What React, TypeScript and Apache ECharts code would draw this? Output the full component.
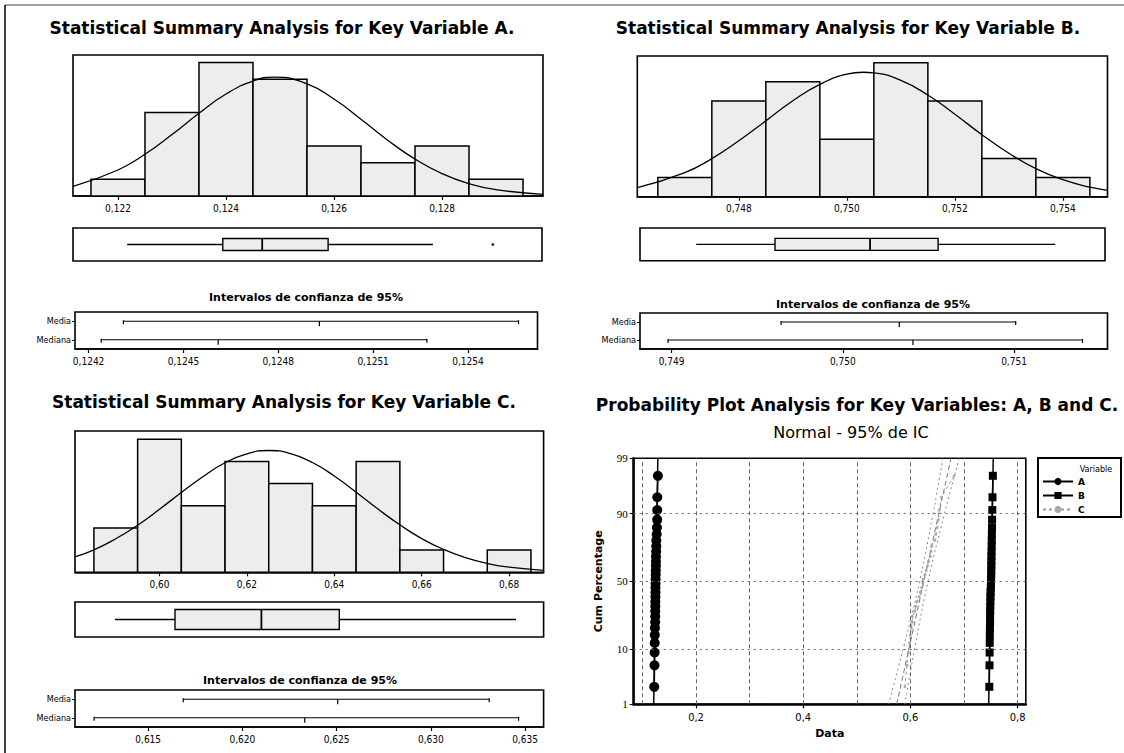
import React, { useEffect, useRef } from 'react';
import * as echarts from 'echarts';

// ---------------- Variable A ----------------
const binCentersA = [0.122, 0.123, 0.124, 0.125, 0.126, 0.127, 0.128, 0.129];
const binCountsA = [1, 5, 8, 7, 3, 2, 3, 1];
const binWidthA = 0.001;
const normalCurveA = [
  [0.12117, 0.58], [0.122, 1.56], [0.1225, 2.5], [0.123, 3.68], [0.1235, 4.96], [0.124, 6.11],
  [0.1245, 6.89], [0.1249, 7.12], [0.1255, 6.72], [0.126, 5.81], [0.1265, 4.6], [0.127, 3.33],
  [0.1275, 2.21], [0.128, 1.34], [0.1285, 0.74], [0.129, 0.38], [0.12987, 0.1],
];
const histTicksA = [0.122, 0.124, 0.126, 0.128];
const boxStatsA = [0.12217, 0.12394, 0.12467, 0.12589, 0.12783]; // min, Q1, median, Q3, max whisker
const outliersA = [0.12894];
const meanCIA = [0.12431, 0.12493, 0.12556]; // low, estimate, high
const medianCIA = [0.12424, 0.12461, 0.12527];
const ciTicksA = [0.1242, 0.1245, 0.1248, 0.1251, 0.1254];

// ---------------- Variable B ----------------
const binCentersB = [0.747, 0.748, 0.749, 0.75, 0.751, 0.752, 0.753, 0.754];
const binCountsB = [1, 5, 6, 3, 7, 5, 2, 1];
const binWidthB = 0.001;
const normalCurveB = [
  [0.74612, 0.47], [0.747, 1.26], [0.7475, 1.99], [0.748, 2.92], [0.7485, 3.96], [0.749, 5.01],
  [0.7495, 5.87], [0.75, 6.4], [0.7503, 6.5], [0.7505, 6.47], [0.751, 6.08], [0.7515, 5.31],
  [0.752, 4.31], [0.7525, 3.24], [0.753, 2.27], [0.7535, 1.47], [0.754, 0.89], [0.7545, 0.5], [0.75483, 0.33],
];
const histTicksB = [0.748, 0.75, 0.752, 0.754];
const boxStatsB = [0.74721, 0.74867, 0.75043, 0.75169, 0.75386];
const meanCIB = [0.74964, 0.75033, 0.75101];
const medianCIB = [0.74898, 0.75041, 0.7514];
const ciTicksB = [0.749, 0.75, 0.751];

// ---------------- Variable C ----------------
const binCentersC = [0.59, 0.6, 0.61, 0.62, 0.63, 0.64, 0.65, 0.66, 0.67, 0.68];
const binCountsC = [2, 6, 3, 5, 4, 3, 5, 1, 0, 1];
const binWidthC = 0.01;
const normalCurveC = [
  [0.58067, 0.69], [0.585, 1.01], [0.59, 1.51], [0.595, 2.12], [0.6, 2.84], [0.605, 3.6], [0.61, 4.32],
  [0.615, 4.94], [0.62, 5.34], [0.625, 5.49], [0.63, 5.35], [0.635, 4.95], [0.64, 4.34], [0.645, 3.61],
  [0.65, 2.85], [0.655, 2.14], [0.66, 1.52], [0.665, 1.03], [0.67, 0.66], [0.675, 0.4], [0.68, 0.23], [0.68789, 0.09],
];
const histTicksC = [0.6, 0.62, 0.64, 0.66, 0.68];
const boxStatsC = [0.58982, 0.60355, 0.62332, 0.64114, 0.68158];
const meanCIC = [0.61686, 0.62506, 0.6331];
const medianCIC = [0.61213, 0.62331, 0.63466];
const ciTicksC = [0.615, 0.62, 0.625, 0.63, 0.635];

// ---------------- Probability plot ----------------
const rankPct = [2.3, 5.6, 8.9, 12.2, 15.5, 18.8, 22.0, 25.3, 28.6, 31.9, 35.2, 38.5, 41.8, 45.1, 48.4,
  51.6, 54.9, 58.2, 61.5, 64.8, 68.1, 71.4, 74.7, 78.0, 81.3, 84.5, 87.8, 91.1, 94.4, 97.7];
const dataA = [0.12217, 0.1226, 0.1228, 0.123, 0.1232, 0.1234, 0.1239, 0.12396, 0.12402, 0.1241, 0.1242, 0.1243,
  0.12438, 0.12446, 0.12462, 0.12472, 0.1249, 0.125, 0.1252, 0.1253, 0.1254, 0.1257, 0.12588, 0.126, 0.1267,
  0.1271, 0.1276, 0.1277, 0.12783, 0.12894];
const dataB = [0.74721, 0.7476, 0.7478, 0.748, 0.7482, 0.7484, 0.74862, 0.74869, 0.7488, 0.749, 0.7492, 0.7494,
  0.7496, 0.75, 0.75034, 0.75052, 0.7507, 0.7509, 0.751, 0.7511, 0.7512, 0.7514, 0.75165, 0.7518, 0.752,
  0.7522, 0.7524, 0.7528, 0.7532, 0.75386];
const dataC = [0.58982, 0.5935, 0.596, 0.5985, 0.6, 0.6015, 0.6034, 0.6036, 0.608, 0.61, 0.6125, 0.6165, 0.6185,
  0.621, 0.6232, 0.62344, 0.627, 0.6295, 0.632, 0.634, 0.637, 0.6385, 0.6397, 0.6455, 0.6475, 0.65, 0.652,
  0.654, 0.658, 0.68158];
const fitA = [[0.12102, 1], [0.12884, 99]];
const fitB = [[0.74605, 1], [0.75461, 99]];
const fitC = [[0.57436, 1], [0.67576, 99]];
const bandPct = [1, 5, 10, 50, 90, 95, 99];
const bandLowC = [0.5592, 0.5771, 0.5865, 0.6173, 0.6424, 0.6488, 0.6606];
const bandHighC = [0.5896, 0.6013, 0.6077, 0.6329, 0.6636, 0.673, 0.691];
const probTicks = [1, 10, 50, 90, 99];
const probXTicks = [0.2, 0.4, 0.6, 0.8];
const probGridX = [0.1, 0.2, 0.3, 0.4, 0.5, 0.6, 0.7, 0.8];

// ---------- probability (normal) scale ----------
function normInv(p: number): number {
  const a = [-39.69683028665376, 220.9460984245205, -275.9285104469687, 138.357751867269, -30.66479806614716, 2.506628277459239];
  const b = [-54.47609879822406, 161.5858368580409, -155.6989798598866, 66.80131188771972, -13.28068155288572];
  const c = [-0.007784894002430293, -0.3223964580411365, -2.400758277161838, -2.549732539343734, 4.374664141464968, 2.938163982698783];
  const d = [0.007784695709041462, 0.3224671290700398, 2.445134137142996, 3.754408661907416];
  const plow = 0.02425;
  if (p < plow) {
    const q = Math.sqrt(-2 * Math.log(p));
    return (((((c[0] * q + c[1]) * q + c[2]) * q + c[3]) * q + c[4]) * q + c[5]) / ((((d[0] * q + d[1]) * q + d[2]) * q + d[3]) * q + 1);
  }
  if (p <= 1 - plow) {
    const q = p - 0.5;
    const r = q * q;
    return (((((a[0] * r + a[1]) * r + a[2]) * r + a[3]) * r + a[4]) * r + a[5]) * q / (((((b[0] * r + b[1]) * r + b[2]) * r + b[3]) * r + b[4]) * r + 1);
  }
  const q = Math.sqrt(-2 * Math.log(1 - p));
  return -(((((c[0] * q + c[1]) * q + c[2]) * q + c[3]) * q + c[4]) * q + c[5]) / ((((d[0] * q + d[1]) * q + d[2]) * q + d[3]) * q + 1);
}
const zOf = (pct: number) => normInv(pct / 100);

// ---------- styles ----------
const BAR_FILL = '#ededed';
const COND = '"DejaVu Sans Condensed", "DejaVu Sans", sans-serif';
const SANS = '"DejaVu Sans", Verdana, sans-serif';
const FRAME = { show: true, borderColor: '#000', borderWidth: 1.6, backgroundColor: 'rgba(0,0,0,0)', containLabel: false, outerBoundsMode: 'none' };

const comma = (dec: number) => (v: number) => v.toFixed(dec).replace('.', ',');

function valueX(g: number, min: number, max: number, ticks: number[] | null, dec: number, extra: any = {}) {
  if (!ticks) return { gridIndex: g, type: 'value', min, max, show: false };
  return {
    gridIndex: g, type: 'value', min, max,
    axisLine: { show: true, onZero: false, lineStyle: { color: '#000', width: 1.6 } },
    axisTick: { show: true, customValues: ticks, length: 4, lineStyle: { color: '#000', width: 1.2 } },
    axisLabel: { show: true, customValues: ticks, formatter: comma(dec), margin: 7, fontFamily: COND, fontSize: 10, color: '#000' },
    splitLine: { show: false },
    ...extra,
  };
}

function histSeries(g: number, centers: number[], counts: number[], w: number) {
  return {
    type: 'custom', xAxisIndex: g, yAxisIndex: g, encode: { x: 0, y: 1 }, z: 2,
    data: centers.map((c, i) => [c, counts[i]]).filter((d) => d[1] > 0),
    renderItem: (_p: any, api: any) => {
      const x = api.value(0), n = api.value(1);
      const a = api.coord([x - w / 2, n]);
      const b = api.coord([x + w / 2, 0]);
      return {
        type: 'rect',
        shape: { x: a[0], y: a[1], width: b[0] - a[0], height: b[1] - a[1] },
        style: { fill: BAR_FILL, stroke: '#000', lineWidth: 1.5 },
      };
    },
  };
}

function curveSeries(g: number, pts: number[][]) {
  return {
    type: 'line', xAxisIndex: g, yAxisIndex: g, data: pts, smooth: true, showSymbol: false, symbol: 'none', z: 4,
    lineStyle: { color: '#000', width: 1.3 },
  };
}

function boxSeries(g: number, stats: number[], h: number) {
  return {
    type: 'custom', xAxisIndex: g, yAxisIndex: g, encode: { x: [0, 1, 2, 3, 4], y: 5 },
    data: [[...stats, 0]],
    renderItem: (_p: any, api: any) => {
      const y = api.coord([api.value(0), 0])[1];
      const px = [0, 1, 2, 3, 4].map((i) => api.coord([api.value(i), 0])[0]);
      const s = { stroke: '#000', lineWidth: 1.4 };
      return {
        type: 'group',
        children: [
          { type: 'line', shape: { x1: px[0], y1: y, x2: px[1], y2: y }, style: s },
          { type: 'line', shape: { x1: px[3], y1: y, x2: px[4], y2: y }, style: s },
          { type: 'rect', shape: { x: px[1], y: y - h / 2, width: px[3] - px[1], height: h }, style: { fill: BAR_FILL, stroke: '#000', lineWidth: 1.4 } },
          { type: 'line', shape: { x1: px[2], y1: y - h / 2, x2: px[2], y2: y + h / 2 }, style: { stroke: '#000', lineWidth: 1.8 } },
        ],
      };
    },
  };
}

function ciSeries(g: number, meanCI: number[], medianCI: number[]) {
  return {
    type: 'custom', xAxisIndex: g, yAxisIndex: g, encode: { x: [0, 1, 2], y: 3 },
    data: [[...medianCI, 0], [...meanCI, 1]],
    renderItem: (_p: any, api: any) => {
      const row = api.value(3);
      const a = api.coord([api.value(0), row]);
      const m = api.coord([api.value(1), row]);
      const b = api.coord([api.value(2), row]);
      const s = { stroke: '#000', lineWidth: 1.2 };
      return {
        type: 'group',
        children: [
          { type: 'line', shape: { x1: a[0], y1: a[1], x2: b[0], y2: b[1] }, style: s },
          { type: 'line', shape: { x1: a[0], y1: a[1] - 1, x2: a[0], y2: a[1] + 3 }, style: s },
          { type: 'line', shape: { x1: b[0], y1: b[1] - 1, x2: b[0], y2: b[1] + 3 }, style: s },
          { type: 'line', shape: { x1: m[0], y1: m[1], x2: m[0], y2: m[1] + 5 }, style: s },
        ],
      };
    },
  };
}

function ciY(g: number) {
  return {
    gridIndex: g, type: 'category', data: ['Mediana', 'Media'],
    axisLine: { show: false },
    axisTick: { show: true, alignWithLabel: true, length: 3, lineStyle: { color: '#000' } },
    axisLabel: { fontFamily: COND, fontSize: 9, color: '#000', margin: 4 },
  };
}

function buildOption() {
  const zLo = zOf(1), zHi = zOf(99);
  const zTicks = probTicks.map(zOf);
  const probLabel = (v: number) => {
    let best = 0;
    zTicks.forEach((z, i) => { if (Math.abs(z - v) < Math.abs(zTicks[best] - v)) best = i; });
    return String(probTicks[best]);
  };
  const toPP = (vals: number[]) => vals.map((v, i) => [v, zOf(rankPct[i])]);
  const fitPP = (f: number[][]) => f.map((d) => [d[0], zOf(d[1])]);

  const grids = [
    { left: 73, top: 55, width: 470, height: 141 },
    { left: 73, top: 228, width: 469, height: 33 },
    { left: 75, top: 312, width: 462.5, height: 37 },
    { left: 637.3, top: 56, width: 470.2, height: 140.7 },
    { left: 640, top: 228, width: 465, height: 32.7 },
    { left: 640, top: 313, width: 467.5, height: 36 },
    { left: 75, top: 431, width: 468.6, height: 141.3 },
    { left: 75, top: 602, width: 468.6, height: 35 },
    { left: 75, top: 690, width: 468.6, height: 37 },
    { left: 633.7, top: 458.3, width: 392.1, height: 246 },
  ].map((g) => ({ ...g, ...FRAME }));

  const xAxis: any[] = [
    valueX(0, 0.121167, 0.12987, histTicksA, 3),
    valueX(1, 0.121167, 0.12985, null, 0),
    valueX(2, 0.124157, 0.12562, ciTicksA, 4),
    valueX(3, 0.74612, 0.754826, histTicksB, 3),
    valueX(4, 0.74617, 0.75478, null, 0),
    valueX(5, 0.748816, 0.751546, ciTicksB, 3),
    valueX(6, 0.58067, 0.68789, histTicksC, 2),
    valueX(7, 0.58067, 0.68789, null, 0),
    valueX(8, 0.611115, 0.635987, ciTicksC, 3),
    valueX(9, 0.0838, 0.8153, probXTicks, 1, {
      axisLine: { show: true, onZero: false, lineStyle: { color: '#000', width: 2.5 } },
      axisLabel: { show: true, customValues: probXTicks, formatter: comma(1), margin: 8, fontFamily: COND, fontSize: 11, color: '#000' },
      name: 'Data', nameLocation: 'middle', nameGap: 24,
      nameTextStyle: { fontFamily: SANS, fontWeight: 'bold', fontSize: 11, color: '#000' },
    }),
  ];

  const yAxis: any[] = [
    { gridIndex: 0, type: 'value', min: 0, max: 8.45, show: false },
    { gridIndex: 1, type: 'category', data: [''], show: false },
    ciY(2),
    { gridIndex: 3, type: 'value', min: 0, max: 7.35, show: false },
    { gridIndex: 4, type: 'category', data: [''], show: false },
    ciY(5),
    { gridIndex: 6, type: 'value', min: 0, max: 6.37, show: false },
    { gridIndex: 7, type: 'category', data: [''], show: false },
    ciY(8),
    {
      gridIndex: 9, type: 'value', min: zLo, max: zHi,
      axisLine: { show: true, onZero: false, lineStyle: { color: '#000', width: 2.5 } },
      axisTick: { show: true, customValues: zTicks, length: 4, lineStyle: { color: '#000' } },
      axisLabel: { show: true, customValues: zTicks, formatter: probLabel, fontFamily: '"Liberation Serif", serif', fontSize: 11, color: '#000', margin: 6 },
      splitLine: { show: false },
      name: 'Cum Percentage', nameLocation: 'middle', nameGap: 30, nameRotate: 90,
      nameTextStyle: { fontFamily: SANS, fontWeight: 'bold', fontSize: 11, color: '#000' },
    },
  ];

  const gridMark = {
    silent: true, symbol: ['none', 'none'], label: { show: false },
    data: [
      ...probGridX.map((x) => ({ xAxis: x, lineStyle: { type: [4, 3], color: '#666', width: 1 } })),
      ...zTicks.slice(1, -1).map((z) => ({ yAxis: z, lineStyle: { type: [2, 4], color: '#666', width: 1 } })),
    ],
  };

  const series: any[] = [
    histSeries(0, binCentersA, binCountsA, binWidthA),
    curveSeries(0, normalCurveA),
    boxSeries(1, boxStatsA, 12),
    {
      type: 'scatter', xAxisIndex: 1, yAxisIndex: 1, data: outliersA.map((v) => [v, 0]),
      symbol: 'circle', symbolSize: 3, itemStyle: { color: '#000' },
    },
    ciSeries(2, meanCIA, medianCIA),

    histSeries(3, binCentersB, binCountsB, binWidthB),
    curveSeries(3, normalCurveB),
    boxSeries(4, boxStatsB, 12),
    ciSeries(5, meanCIB, medianCIB),

    histSeries(6, binCentersC, binCountsC, binWidthC),
    curveSeries(6, normalCurveC),
    boxSeries(7, boxStatsC, 20),
    ciSeries(8, meanCIC, medianCIC),

    // probability plot
    {
      name: 'gridlines', type: 'line', xAxisIndex: 9, yAxisIndex: 9, data: [], markLine: gridMark,
    },
    {
      name: 'fitC', type: 'line', xAxisIndex: 9, yAxisIndex: 9, data: fitPP(fitC), symbol: 'none',
      lineStyle: { color: '#777', width: 1, type: [5, 3] },
    },
    {
      name: 'lowC', type: 'line', xAxisIndex: 9, yAxisIndex: 9, smooth: true, symbol: 'none',
      data: bandPct.map((p, i) => [bandLowC[i], zOf(p)]), lineStyle: { color: '#888', width: 1, type: [2, 3] },
    },
    {
      name: 'highC', type: 'line', xAxisIndex: 9, yAxisIndex: 9, smooth: true, symbol: 'none',
      data: bandPct.map((p, i) => [bandHighC[i], zOf(p)]), lineStyle: { color: '#888', width: 1, type: [2, 3] },
    },
    {
      name: 'C', type: 'line', xAxisIndex: 9, yAxisIndex: 9, data: toPP(dataC),
      symbol: 'circle', symbolSize: 3, itemStyle: { color: '#aaa' },
      lineStyle: { color: '#999', width: 1, type: [3, 3] },
    },
    {
      name: 'fitA', type: 'line', xAxisIndex: 9, yAxisIndex: 9, data: fitPP(fitA), symbol: 'none',
      lineStyle: { color: '#000', width: 1.5 },
    },
    {
      name: 'A', type: 'line', xAxisIndex: 9, yAxisIndex: 9, data: toPP(dataA),
      symbol: 'circle', symbolSize: 10, itemStyle: { color: '#000' }, lineStyle: { color: '#000', width: 1.5 },
    },
    {
      name: 'fitB', type: 'line', xAxisIndex: 9, yAxisIndex: 9, data: fitPP(fitB), symbol: 'none',
      lineStyle: { color: '#000', width: 1.5 },
    },
    {
      name: 'B', type: 'line', xAxisIndex: 9, yAxisIndex: 9, data: toPP(dataB),
      symbol: 'rect', symbolSize: 8, itemStyle: { color: '#000' }, lineStyle: { color: '#000', width: 1.5 },
    },
  ];

  const titleFont = { fontFamily: SANS, fontWeight: 'bold', fontSize: 17, fill: '#000' };
  const ciFont = { fontFamily: SANS, fontWeight: 'bold', fontSize: 11, fill: '#000' };
  const txt = (text: string, x: number, y: number, style: any) => ({
    type: 'text', x, y, style: { text, textAlign: 'center', textVerticalAlign: 'middle', ...style },
  });

  const graphic: any[] = [
    { type: 'line', shape: { x1: 5, y1: 5, x2: 1124, y2: 5 }, style: { stroke: '#444', lineWidth: 1 } },
    { type: 'line', shape: { x1: 5, y1: 5, x2: 5, y2: 753 }, style: { stroke: '#000', lineWidth: 1.5 } },
    txt('Statistical Summary Analysis for Key Variable A.', 282, 28, titleFont),
    txt('Statistical Summary Analysis for Key Variable B.', 848, 28, titleFont),
    txt('Statistical Summary Analysis for Key Variable C.', 284, 402, titleFont),
    txt('Probability Plot Analysis for Key Variables: A, B and C.', 857, 405, titleFont),
    txt('Normal - 95% de IC', 851, 432, { fontFamily: SANS, fontSize: 16, fill: '#000' }),
    txt('Intervalos de confianza de 95%', 306, 297, ciFont),
    txt('Intervalos de confianza de 95%', 873, 304, ciFont),
    txt('Intervalos de confianza de 95%', 300, 680, ciFont),
    { type: 'rect', shape: { x: 1038, y: 458, width: 83, height: 59 }, style: { fill: 'none', stroke: '#000', lineWidth: 2 } },
    txt('Variable', 1096, 469, { fontFamily: COND, fontSize: 9, fill: '#000' }),
  ];

  return {
    animation: false,
    backgroundColor: '#fff',
    grid: grids,
    xAxis,
    yAxis,
    series,
    legend: {
      data: ['A', 'B', 'C'], orient: 'vertical', left: 1042, top: 477, itemWidth: 30, itemHeight: 9, itemGap: 5,
      padding: 0, selectedMode: false,
      textStyle: { fontFamily: SANS, fontSize: 9, fontWeight: 'bold', color: '#000' },
    },
    graphic,
  };
}

export default function App() {
  const ref = useRef<HTMLDivElement>(null);
  useEffect(() => {
    const chart = echarts.init(ref.current as HTMLDivElement, undefined, { renderer: 'svg' });
    chart.setOption(buildOption() as any);
    return () => chart.dispose();
  }, []);
  return (
    <div
      ref={ref}
      style={{ position: 'absolute', left: 0, top: 0, width: 1124, height: 753, background: '#fff' }}
    />
  );
}
